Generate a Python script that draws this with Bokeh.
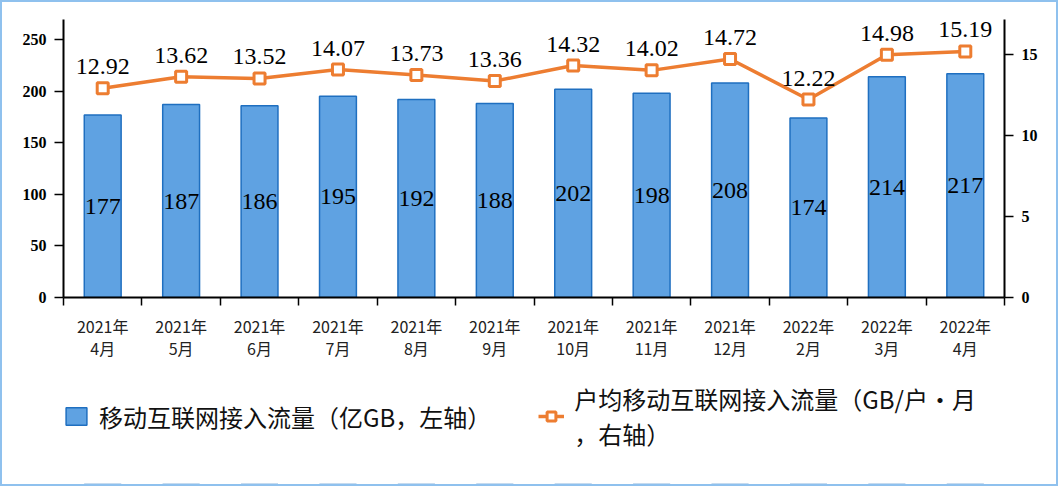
from bokeh.plotting import figure
from bokeh.models import (Range1d, LinearAxis, FixedTicker,
                          ColumnDataSource, Legend, LegendItem)
from bokeh.layouts import column
from bokeh.embed import file_html
from bokeh.resources import INLINE
from bokeh.core.properties import value

# ---- data ----
months = ["2021年\n4月", "2021年\n5月", "2021年\n6月", "2021年\n7月", "2021年\n8月", "2021年\n9月",
          "2021年\n10月", "2021年\n11月", "2021年\n12月", "2022年\n2月", "2022年\n3月", "2022年\n4月"]
traffic = [177, 187, 186, 195, 192, 188, 202, 198, 208, 174, 214, 217]
per_user = [12.92, 13.62, 13.52, 14.07, 13.73, 13.36, 14.32, 14.02, 14.72, 12.22, 14.98, 15.19]
left_ticks = [0, 50, 100, 150, 200, 250]
right_ticks = [0, 5, 10, 15]
bar_name = "移动互联网接入流量（亿GB，左轴）"
line_name = "户均移动互联网接入流量（GB/户·月\n，右轴）"

BLUE = "#5fa2e2"
BLUE_EDGE = "#1f6fc0"
ORANGE = "#ED7D31"

n = len(months)
centers = [i + 0.5 for i in range(n)]
bounds = list(range(n + 1))

src = ColumnDataSource(dict(
    x=centers,
    traffic=traffic,
    half=[t / 2 for t in traffic],
    tlabel=[str(t) for t in traffic],
    per=per_user,
    plabel=["%.2f" % v for v in per_user],
))

p = figure(width=1054, height=372,
           x_range=Range1d(0, n),
           y_range=Range1d(0, 269.5),
           output_backend="svg", toolbar_location=None,
           x_axis_location=None, y_axis_location=None,
           min_border_left=61, min_border_right=52, min_border_top=17, min_border_bottom=77)
p.outline_line_color = None
p.xgrid.visible = False
p.ygrid.visible = False
p.extra_y_ranges = {"right": Range1d(0, 17.16)}

bars = p.vbar(x="x", top="traffic", width=0.47, source=src,
              fill_color=BLUE, line_color=BLUE_EDGE, line_width=1.5)
line = p.line(x="x", y="per", source=src, y_range_name="right",
              line_color=ORANGE, line_width=3.5)
marks = p.scatter(x="x", y="per", source=src, y_range_name="right", marker="square",
                  size=11, fill_color="white", line_color=ORANGE, line_width=3)

p.text(x="x", y="half", text="tlabel", source=src, text_align="center",
       text_baseline="middle", text_font=value("Liberation Serif"),
       text_font_size="24px", text_color="black")
p.text(x="x", y="per", text="plabel", source=src, y_range_name="right",
       text_align="center", text_baseline="bottom", y_offset=-14,
       text_font=value("Liberation Serif"), text_font_size="24px", text_color="black")

def style_y(ax):
    ax.major_tick_in = 0
    ax.major_tick_out = 9
    ax.minor_tick_line_color = None
    ax.axis_line_width = 2
    ax.major_tick_line_width = 1.5
    ax.axis_line_color = "black"
    ax.major_tick_line_color = "black"
    ax.major_label_text_font = "Liberation Serif"
    ax.major_label_text_font_style = "bold"
    ax.major_label_text_font_size = "16px"
    ax.major_label_text_color = "black"
    ax.major_label_standoff = 8

left = LinearAxis(ticker=FixedTicker(ticks=left_ticks))
style_y(left)
p.add_layout(left, "left")

right = LinearAxis(y_range_name="right", ticker=FixedTicker(ticks=right_ticks))
style_y(right)
p.add_layout(right, "right")

# category axis: labels at centres, tick marks at boundaries (minor ticks)
cx = LinearAxis(ticker=FixedTicker(ticks=centers, minor_ticks=bounds),
                major_label_overrides={c: m for c, m in zip(centers, months)})
cx.axis_line_width = 2
cx.axis_line_color = "black"
cx.major_tick_line_color = None
cx.major_tick_out = 0
cx.major_tick_in = 0
cx.minor_tick_in = 0
cx.minor_tick_out = 8
cx.minor_tick_line_width = 1.5
cx.minor_tick_line_color = "black"
cx.major_label_text_font = "Noto Sans CJK SC"
cx.major_label_text_font_size = "16px"
cx.major_label_text_color = "#222222"
cx.major_label_text_line_height = 0.93
cx.major_label_standoff = 8
p.add_layout(cx, "below")

# ---- legend strip: same series drawn again, far outside this strip's visible range ----
lg = figure(width=1054, height=110, x_range=Range1d(0, n), y_range=Range1d(1000, 1001),
            output_backend="svg", toolbar_location=None,
            x_axis_location=None, y_axis_location=None, min_border=0)
lg.outline_line_color = None
lg.xgrid.visible = False
lg.ygrid.visible = False
lb = lg.vbar(x="x", top="traffic", width=0.47, source=src,
             fill_color=BLUE, line_color=BLUE_EDGE, line_width=1.5)
ll = lg.line(x="x", y="per", source=src, line_color=ORANGE, line_width=3.5)
ls = lg.scatter(x="x", y="per", source=src, marker="square", size=11,
                fill_color="white", line_color=ORANGE, line_width=3)

legend = Legend(items=[LegendItem(label=bar_name, renderers=[lb]),
                       LegendItem(label=line_name, renderers=[ll, ls])],
                orientation="horizontal", location=(0, 33))
legend.label_text_font = "Noto Sans CJK SC"
legend.label_text_font_size = "24px"
legend.label_text_line_height = 0.866
legend.label_text_color = "#111111"
legend.glyph_width = 26
legend.glyph_height = 22
legend.label_standoff = 10
legend.spacing = 47
legend.padding = 0
legend.margin = 0
legend.border_line_color = None
legend.background_fill_alpha = 0
lg.add_layout(legend, "center")

layout = column(p, lg, spacing=0, styles={"border": "2px solid #8fc1ee"})

open("out.html", "w").write(file_html(layout, INLINE))
